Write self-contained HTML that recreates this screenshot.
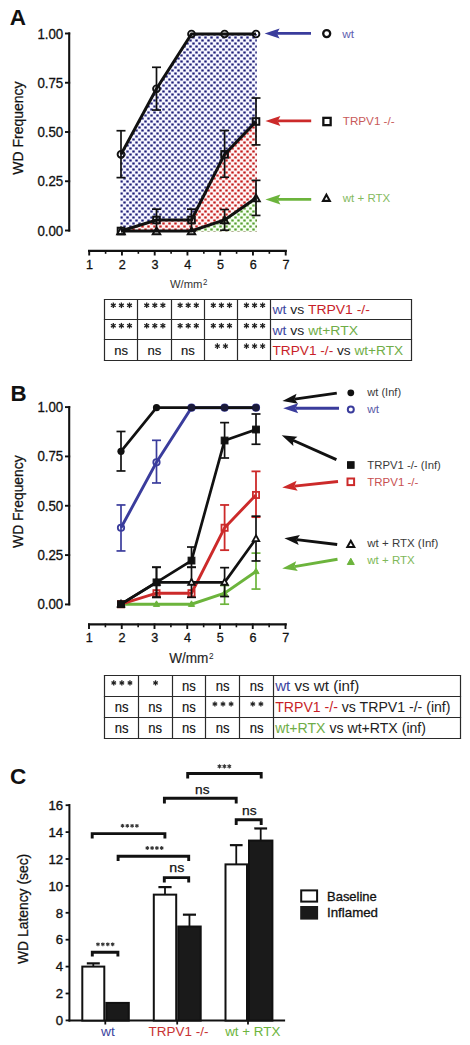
<!DOCTYPE html>
<html><head><meta charset="utf-8"><title>Figure</title><style>
html,body{margin:0;padding:0;background:#fff;width:470px;height:1045px;overflow:hidden}
svg{display:block}
text{font-family:"Liberation Sans",sans-serif}
.cal{font-family:"Liberation Sans",sans-serif}
</style></head><body>
<svg width="470" height="1045" viewBox="0 0 470 1045">
<defs>
<pattern id="pb" width="6.0" height="6.0" patternUnits="userSpaceOnUse"><rect width="6.0" height="6.0" fill="#f6f6ff"/><rect x="0.30000000000000004" y="0.44999999999999996" width="2.4" height="2.1" fill="#1e1e78"/><rect x="3.3" y="3.45" width="2.4" height="2.1" fill="#1e1e78"/></pattern>
<pattern id="pr" width="6.0" height="6.0" patternUnits="userSpaceOnUse"><rect width="6.0" height="6.0" fill="#fff4f4"/><rect x="0.30000000000000004" y="0.44999999999999996" width="2.4" height="2.1" fill="#c21a1a"/><rect x="3.3" y="3.45" width="2.4" height="2.1" fill="#c21a1a"/></pattern>
<pattern id="pg" width="6.0" height="6.0" patternUnits="userSpaceOnUse"><rect width="6.0" height="6.0" fill="#f6fff2"/><rect x="0.30000000000000004" y="0.44999999999999996" width="2.4" height="2.1" fill="#56a030"/><rect x="3.3" y="3.45" width="2.4" height="2.1" fill="#56a030"/></pattern>
</defs>
<rect width="470" height="1045" fill="#fff"/>
<text x="9.8" y="24.6" font-size="22.5" fill="#111" text-anchor="start" font-weight="bold" >A</text>
<text x="10.6" y="401" font-size="22.3" fill="#111" text-anchor="start" font-weight="bold" >B</text>
<text x="9.9" y="784" font-size="22.5" fill="#111" text-anchor="start" font-weight="bold" >C</text>
<polygon points="120.3,154.37 156.5,88.77 191.5,34 224.6,34 256.8,34 256.8,231.5 120.3,231.5" fill="url(#pb)"/>
<polygon points="120.3,231 156.5,219.97 191.5,219.97 224.6,154.37 256.8,121.47 256.8,231.5 120.3,231.5" fill="url(#pr)"/>
<polygon points="120.3,231 156.5,231 191.5,231 224.6,219.97 256.8,198.1 256.8,231.5 120.3,231.5" fill="url(#pg)"/>
<line x1="69.2" y1="32.4" x2="69.2" y2="231.6" stroke="#111" stroke-width="2.1" />
<line x1="65" y1="33.5" x2="70.2" y2="33.5" stroke="#111" stroke-width="1.9" />
<text x="63.2" y="38.5" font-size="14" fill="#111" text-anchor="end" font-weight="normal" textLength="25.8" lengthAdjust="spacingAndGlyphs" stroke="#111" stroke-width="0.3" >1.00</text>
<line x1="65" y1="82.75" x2="70.2" y2="82.75" stroke="#111" stroke-width="1.9" />
<text x="63.2" y="87.75" font-size="14" fill="#111" text-anchor="end" font-weight="normal" textLength="25.8" lengthAdjust="spacingAndGlyphs" stroke="#111" stroke-width="0.3" >0.75</text>
<line x1="65" y1="132" x2="70.2" y2="132" stroke="#111" stroke-width="1.9" />
<text x="63.2" y="137" font-size="14" fill="#111" text-anchor="end" font-weight="normal" textLength="25.8" lengthAdjust="spacingAndGlyphs" stroke="#111" stroke-width="0.3" >0.50</text>
<line x1="65" y1="181.25" x2="70.2" y2="181.25" stroke="#111" stroke-width="1.9" />
<text x="63.2" y="186.25" font-size="14" fill="#111" text-anchor="end" font-weight="normal" textLength="25.8" lengthAdjust="spacingAndGlyphs" stroke="#111" stroke-width="0.3" >0.25</text>
<line x1="65" y1="230.5" x2="70.2" y2="230.5" stroke="#111" stroke-width="1.9" />
<text x="63.2" y="235.5" font-size="14" fill="#111" text-anchor="end" font-weight="normal" textLength="25.8" lengthAdjust="spacingAndGlyphs" stroke="#111" stroke-width="0.3" >0.00</text>
<text x="0" y="0" font-size="14" fill="#111" text-anchor="middle" font-weight="normal" textLength="93.4" lengthAdjust="spacingAndGlyphs" stroke="#111" stroke-width="0.25" transform="translate(22.8,128.1) rotate(-90)">WD Frequency</text>
<line x1="88" y1="250.8" x2="286.8" y2="250.8" stroke="#111" stroke-width="2.2" />
<line x1="89.2" y1="250" x2="89.2" y2="255.5" stroke="#111" stroke-width="1.9" />
<text x="89.4" y="268.5" font-size="12.6" fill="#111" text-anchor="middle" font-weight="normal" stroke="#111" stroke-width="0.3" >1</text>
<line x1="105.6" y1="250" x2="105.6" y2="253.8" stroke="#111" stroke-width="1.6" />
<line x1="121.95" y1="250" x2="121.95" y2="255.5" stroke="#111" stroke-width="1.9" />
<text x="122.15" y="268.5" font-size="12.6" fill="#111" text-anchor="middle" font-weight="normal" stroke="#111" stroke-width="0.3" >2</text>
<line x1="138.35" y1="250" x2="138.35" y2="253.8" stroke="#111" stroke-width="1.6" />
<line x1="154.7" y1="250" x2="154.7" y2="255.5" stroke="#111" stroke-width="1.9" />
<text x="154.9" y="268.5" font-size="12.6" fill="#111" text-anchor="middle" font-weight="normal" stroke="#111" stroke-width="0.3" >3</text>
<line x1="171.1" y1="250" x2="171.1" y2="253.8" stroke="#111" stroke-width="1.6" />
<line x1="187.45" y1="250" x2="187.45" y2="255.5" stroke="#111" stroke-width="1.9" />
<text x="187.65" y="268.5" font-size="12.6" fill="#111" text-anchor="middle" font-weight="normal" stroke="#111" stroke-width="0.3" >4</text>
<line x1="203.85" y1="250" x2="203.85" y2="253.8" stroke="#111" stroke-width="1.6" />
<line x1="220.2" y1="250" x2="220.2" y2="255.5" stroke="#111" stroke-width="1.9" />
<text x="220.4" y="268.5" font-size="12.6" fill="#111" text-anchor="middle" font-weight="normal" stroke="#111" stroke-width="0.3" >5</text>
<line x1="236.6" y1="250" x2="236.6" y2="253.8" stroke="#111" stroke-width="1.6" />
<line x1="252.95" y1="250" x2="252.95" y2="255.5" stroke="#111" stroke-width="1.9" />
<text x="253.15" y="268.5" font-size="12.6" fill="#111" text-anchor="middle" font-weight="normal" stroke="#111" stroke-width="0.3" >6</text>
<line x1="269.35" y1="250" x2="269.35" y2="253.8" stroke="#111" stroke-width="1.6" />
<line x1="285.7" y1="250" x2="285.7" y2="255.5" stroke="#111" stroke-width="1.9" />
<text x="285.9" y="268.5" font-size="12.6" fill="#111" text-anchor="middle" font-weight="normal" stroke="#111" stroke-width="0.3" >7</text>
<text x="170" y="288.4" font-size="11.8" fill="#333" text-anchor="start" font-weight="normal" textLength="32.4" lengthAdjust="spacingAndGlyphs" >W/mm</text>
<text x="203" y="285" font-size="9.0" fill="#333" text-anchor="start" font-weight="normal" textLength="4.4" lengthAdjust="spacingAndGlyphs" >2</text>
<line x1="121" y1="130.73" x2="121" y2="177.61" stroke="#111" stroke-width="1.7" />
<line x1="116.5" y1="130.73" x2="125.5" y2="130.73" stroke="#111" stroke-width="1.7" />
<line x1="116.5" y1="177.61" x2="125.5" y2="177.61" stroke="#111" stroke-width="1.7" />
<line x1="156.5" y1="67.29" x2="156.5" y2="110.04" stroke="#111" stroke-width="1.7" />
<line x1="152" y1="67.29" x2="161" y2="67.29" stroke="#111" stroke-width="1.7" />
<line x1="152" y1="110.04" x2="161" y2="110.04" stroke="#111" stroke-width="1.7" />
<polyline points="121,154.37 156.5,88.77 191.5,34 224.6,34 256,34" fill="none" stroke="#111" stroke-width="3.0" stroke-linejoin="miter"/>
<circle cx="121" cy="154.37" r="3.4" stroke="#111" fill="none" stroke-width="1.9"/>
<circle cx="156.5" cy="88.77" r="3.4" stroke="#111" fill="none" stroke-width="1.9"/>
<circle cx="191.5" cy="34" r="3.4" stroke="#111" fill="none" stroke-width="1.9"/>
<circle cx="224.6" cy="34" r="3.4" stroke="#111" fill="none" stroke-width="1.9"/>
<circle cx="256" cy="34" r="3.4" stroke="#111" fill="none" stroke-width="1.9"/>
<line x1="156.5" y1="209.13" x2="156.5" y2="231" stroke="#111" stroke-width="1.7" />
<line x1="152" y1="209.13" x2="161" y2="209.13" stroke="#111" stroke-width="1.7" />
<line x1="152" y1="231" x2="161" y2="231" stroke="#111" stroke-width="1.7" />
<line x1="191.5" y1="209.13" x2="191.5" y2="231" stroke="#111" stroke-width="1.7" />
<line x1="187" y1="209.13" x2="196" y2="209.13" stroke="#111" stroke-width="1.7" />
<line x1="187" y1="231" x2="196" y2="231" stroke="#111" stroke-width="1.7" />
<line x1="224.6" y1="130.53" x2="224.6" y2="177.22" stroke="#111" stroke-width="1.7" />
<line x1="220.1" y1="130.53" x2="229.1" y2="130.53" stroke="#111" stroke-width="1.7" />
<line x1="220.1" y1="177.22" x2="229.1" y2="177.22" stroke="#111" stroke-width="1.7" />
<line x1="256" y1="98.02" x2="256" y2="144.91" stroke="#111" stroke-width="1.7" />
<line x1="251.5" y1="98.02" x2="260.5" y2="98.02" stroke="#111" stroke-width="1.7" />
<line x1="251.5" y1="144.91" x2="260.5" y2="144.91" stroke="#111" stroke-width="1.7" />
<polyline points="121,231 156.5,219.97 191.5,219.97 224.6,154.37 256,121.47" fill="none" stroke="#111" stroke-width="3.0" stroke-linejoin="miter"/>
<rect x="117.7" y="227.7" width="6.6" height="6.6" stroke="#111" fill="none" stroke-width="2.0"/>
<rect x="153.2" y="216.67" width="6.6" height="6.6" stroke="#111" fill="none" stroke-width="2.0"/>
<rect x="188.2" y="216.67" width="6.6" height="6.6" stroke="#111" fill="none" stroke-width="2.0"/>
<rect x="221.3" y="151.07" width="6.6" height="6.6" stroke="#111" fill="none" stroke-width="2.0"/>
<rect x="252.7" y="118.17" width="6.6" height="6.6" stroke="#111" fill="none" stroke-width="2.0"/>
<line x1="224.6" y1="209.53" x2="224.6" y2="230.21" stroke="#111" stroke-width="1.7" />
<line x1="220.1" y1="209.53" x2="229.1" y2="209.53" stroke="#111" stroke-width="1.7" />
<line x1="220.1" y1="230.21" x2="229.1" y2="230.21" stroke="#111" stroke-width="1.7" />
<line x1="256" y1="180.37" x2="256" y2="215.44" stroke="#111" stroke-width="1.7" />
<line x1="251.5" y1="180.37" x2="260.5" y2="180.37" stroke="#111" stroke-width="1.7" />
<line x1="251.5" y1="215.44" x2="260.5" y2="215.44" stroke="#111" stroke-width="1.7" />
<polyline points="121,231 156.5,231 191.5,231 224.6,219.97 256,198.1" fill="none" stroke="#111" stroke-width="3.0" stroke-linejoin="miter"/>
<polygon points="121,227.4 124.8,234.24 117.2,234.24" stroke="#111" fill="none" stroke-width="1.9" stroke-linejoin="miter"/>
<polygon points="156.5,227.4 160.3,234.24 152.7,234.24" stroke="#111" fill="none" stroke-width="1.9" stroke-linejoin="miter"/>
<polygon points="191.5,227.4 195.3,234.24 187.7,234.24" stroke="#111" fill="none" stroke-width="1.9" stroke-linejoin="miter"/>
<polygon points="224.6,216.36 228.4,223.2 220.8,223.2" stroke="#111" fill="none" stroke-width="1.9" stroke-linejoin="miter"/>
<polygon points="256,194.5 259.8,201.34 252.2,201.34" stroke="#111" fill="none" stroke-width="1.9" stroke-linejoin="miter"/>
<line x1="276.9" y1="33.4" x2="311" y2="33.4" stroke="#3a3c9c" stroke-width="2.9" />
<polygon points="264.6,33.4 279.6,38.4 276.9,33.4 279.6,28.4" fill="#3a3c9c"/>
<circle cx="326.7" cy="33.6" r="3.5" stroke="#111" fill="none" stroke-width="2.3"/>
<text x="342.2" y="38" font-size="11.8" fill="#6060b0" text-anchor="start" font-weight="normal" >wt</text>
<line x1="277.7" y1="120.9" x2="311.2" y2="120.9" stroke="#cc2a2a" stroke-width="2.9" />
<polygon points="265.4,120.9 280.4,125.9 277.7,120.9 280.4,115.9" fill="#cc2a2a"/>
<rect x="323.35" y="117.85" width="7.3" height="7.3" stroke="#111" fill="none" stroke-width="2.3"/>
<text x="342.8" y="125.3" font-size="11.8" fill="#c85a5a" text-anchor="start" font-weight="normal" textLength="51.8" lengthAdjust="spacingAndGlyphs" >TRPV1 -/-</text>
<line x1="277.7" y1="199.4" x2="311.2" y2="199.4" stroke="#6cb43c" stroke-width="2.9" />
<polygon points="265.4,199.4 280.4,204.4 277.7,199.4 280.4,194.4" fill="#6cb43c"/>
<polygon points="326.4,194.73 329.8,200.85 323,200.85" stroke="#111" fill="none" stroke-width="2.1" stroke-linejoin="miter"/>
<text x="342.8" y="201.7" font-size="11.8" fill="#84ba60" text-anchor="start" font-weight="normal" textLength="47.4" lengthAdjust="spacingAndGlyphs" >wt + RTX</text>
<line x1="103.9" y1="299.5" x2="412.1" y2="299.5" stroke="#2a2a2a" stroke-width="1.2" />
<line x1="103.9" y1="319.5" x2="412.1" y2="319.5" stroke="#2a2a2a" stroke-width="1.2" />
<line x1="103.9" y1="339.5" x2="412.1" y2="339.5" stroke="#2a2a2a" stroke-width="1.2" />
<line x1="103.9" y1="360.5" x2="412.1" y2="360.5" stroke="#2a2a2a" stroke-width="1.2" />
<line x1="104.5" y1="299.5" x2="104.5" y2="360.5" stroke="#2a2a2a" stroke-width="1.2" />
<line x1="137.5" y1="299.5" x2="137.5" y2="360.5" stroke="#2a2a2a" stroke-width="1.2" />
<line x1="171.5" y1="299.5" x2="171.5" y2="360.5" stroke="#2a2a2a" stroke-width="1.2" />
<line x1="204.5" y1="299.5" x2="204.5" y2="360.5" stroke="#2a2a2a" stroke-width="1.2" />
<line x1="237.5" y1="299.5" x2="237.5" y2="360.5" stroke="#2a2a2a" stroke-width="1.2" />
<line x1="270.5" y1="299.5" x2="270.5" y2="360.5" stroke="#2a2a2a" stroke-width="1.2" />
<line x1="411.5" y1="299.5" x2="411.5" y2="360.5" stroke="#2a2a2a" stroke-width="1.2" />
<line x1="113.3" y1="302.5" x2="113.3" y2="308.1" stroke="#222" stroke-width="1.3" />
<line x1="110.88" y1="303.9" x2="115.72" y2="306.7" stroke="#222" stroke-width="1.3" />
<line x1="115.72" y1="303.9" x2="110.88" y2="306.7" stroke="#222" stroke-width="1.3" />
<line x1="121.4" y1="302.5" x2="121.4" y2="308.1" stroke="#222" stroke-width="1.3" />
<line x1="118.98" y1="303.9" x2="123.82" y2="306.7" stroke="#222" stroke-width="1.3" />
<line x1="123.82" y1="303.9" x2="118.98" y2="306.7" stroke="#222" stroke-width="1.3" />
<line x1="129.5" y1="302.5" x2="129.5" y2="308.1" stroke="#222" stroke-width="1.3" />
<line x1="127.08" y1="303.9" x2="131.92" y2="306.7" stroke="#222" stroke-width="1.3" />
<line x1="131.92" y1="303.9" x2="127.08" y2="306.7" stroke="#222" stroke-width="1.3" />
<line x1="146.7" y1="302.5" x2="146.7" y2="308.1" stroke="#222" stroke-width="1.3" />
<line x1="144.28" y1="303.9" x2="149.12" y2="306.7" stroke="#222" stroke-width="1.3" />
<line x1="149.12" y1="303.9" x2="144.28" y2="306.7" stroke="#222" stroke-width="1.3" />
<line x1="154.8" y1="302.5" x2="154.8" y2="308.1" stroke="#222" stroke-width="1.3" />
<line x1="152.38" y1="303.9" x2="157.22" y2="306.7" stroke="#222" stroke-width="1.3" />
<line x1="157.22" y1="303.9" x2="152.38" y2="306.7" stroke="#222" stroke-width="1.3" />
<line x1="162.9" y1="302.5" x2="162.9" y2="308.1" stroke="#222" stroke-width="1.3" />
<line x1="160.48" y1="303.9" x2="165.32" y2="306.7" stroke="#222" stroke-width="1.3" />
<line x1="165.32" y1="303.9" x2="160.48" y2="306.7" stroke="#222" stroke-width="1.3" />
<line x1="180.1" y1="302.5" x2="180.1" y2="308.1" stroke="#222" stroke-width="1.3" />
<line x1="177.68" y1="303.9" x2="182.52" y2="306.7" stroke="#222" stroke-width="1.3" />
<line x1="182.52" y1="303.9" x2="177.68" y2="306.7" stroke="#222" stroke-width="1.3" />
<line x1="188.2" y1="302.5" x2="188.2" y2="308.1" stroke="#222" stroke-width="1.3" />
<line x1="185.78" y1="303.9" x2="190.62" y2="306.7" stroke="#222" stroke-width="1.3" />
<line x1="190.62" y1="303.9" x2="185.78" y2="306.7" stroke="#222" stroke-width="1.3" />
<line x1="196.3" y1="302.5" x2="196.3" y2="308.1" stroke="#222" stroke-width="1.3" />
<line x1="193.88" y1="303.9" x2="198.72" y2="306.7" stroke="#222" stroke-width="1.3" />
<line x1="198.72" y1="303.9" x2="193.88" y2="306.7" stroke="#222" stroke-width="1.3" />
<line x1="213.3" y1="302.5" x2="213.3" y2="308.1" stroke="#222" stroke-width="1.3" />
<line x1="210.88" y1="303.9" x2="215.72" y2="306.7" stroke="#222" stroke-width="1.3" />
<line x1="215.72" y1="303.9" x2="210.88" y2="306.7" stroke="#222" stroke-width="1.3" />
<line x1="221.4" y1="302.5" x2="221.4" y2="308.1" stroke="#222" stroke-width="1.3" />
<line x1="218.98" y1="303.9" x2="223.82" y2="306.7" stroke="#222" stroke-width="1.3" />
<line x1="223.82" y1="303.9" x2="218.98" y2="306.7" stroke="#222" stroke-width="1.3" />
<line x1="229.5" y1="302.5" x2="229.5" y2="308.1" stroke="#222" stroke-width="1.3" />
<line x1="227.08" y1="303.9" x2="231.92" y2="306.7" stroke="#222" stroke-width="1.3" />
<line x1="231.92" y1="303.9" x2="227.08" y2="306.7" stroke="#222" stroke-width="1.3" />
<line x1="246.45" y1="302.5" x2="246.45" y2="308.1" stroke="#222" stroke-width="1.3" />
<line x1="244.03" y1="303.9" x2="248.87" y2="306.7" stroke="#222" stroke-width="1.3" />
<line x1="248.87" y1="303.9" x2="244.03" y2="306.7" stroke="#222" stroke-width="1.3" />
<line x1="254.55" y1="302.5" x2="254.55" y2="308.1" stroke="#222" stroke-width="1.3" />
<line x1="252.13" y1="303.9" x2="256.97" y2="306.7" stroke="#222" stroke-width="1.3" />
<line x1="256.97" y1="303.9" x2="252.13" y2="306.7" stroke="#222" stroke-width="1.3" />
<line x1="262.65" y1="302.5" x2="262.65" y2="308.1" stroke="#222" stroke-width="1.3" />
<line x1="260.23" y1="303.9" x2="265.07" y2="306.7" stroke="#222" stroke-width="1.3" />
<line x1="265.07" y1="303.9" x2="260.23" y2="306.7" stroke="#222" stroke-width="1.3" />
<text x="272.5" y="314.2" font-size="13.6" textLength="97.4" lengthAdjust="spacingAndGlyphs"><tspan fill="#3c46a0">wt</tspan><tspan fill="#222"> vs </tspan><tspan fill="#c81e28">TRPV1 -/-</tspan></text>
<line x1="113.3" y1="322.9" x2="113.3" y2="328.5" stroke="#222" stroke-width="1.3" />
<line x1="110.88" y1="324.3" x2="115.72" y2="327.1" stroke="#222" stroke-width="1.3" />
<line x1="115.72" y1="324.3" x2="110.88" y2="327.1" stroke="#222" stroke-width="1.3" />
<line x1="121.4" y1="322.9" x2="121.4" y2="328.5" stroke="#222" stroke-width="1.3" />
<line x1="118.98" y1="324.3" x2="123.82" y2="327.1" stroke="#222" stroke-width="1.3" />
<line x1="123.82" y1="324.3" x2="118.98" y2="327.1" stroke="#222" stroke-width="1.3" />
<line x1="129.5" y1="322.9" x2="129.5" y2="328.5" stroke="#222" stroke-width="1.3" />
<line x1="127.08" y1="324.3" x2="131.92" y2="327.1" stroke="#222" stroke-width="1.3" />
<line x1="131.92" y1="324.3" x2="127.08" y2="327.1" stroke="#222" stroke-width="1.3" />
<line x1="146.7" y1="322.9" x2="146.7" y2="328.5" stroke="#222" stroke-width="1.3" />
<line x1="144.28" y1="324.3" x2="149.12" y2="327.1" stroke="#222" stroke-width="1.3" />
<line x1="149.12" y1="324.3" x2="144.28" y2="327.1" stroke="#222" stroke-width="1.3" />
<line x1="154.8" y1="322.9" x2="154.8" y2="328.5" stroke="#222" stroke-width="1.3" />
<line x1="152.38" y1="324.3" x2="157.22" y2="327.1" stroke="#222" stroke-width="1.3" />
<line x1="157.22" y1="324.3" x2="152.38" y2="327.1" stroke="#222" stroke-width="1.3" />
<line x1="162.9" y1="322.9" x2="162.9" y2="328.5" stroke="#222" stroke-width="1.3" />
<line x1="160.48" y1="324.3" x2="165.32" y2="327.1" stroke="#222" stroke-width="1.3" />
<line x1="165.32" y1="324.3" x2="160.48" y2="327.1" stroke="#222" stroke-width="1.3" />
<line x1="180.1" y1="322.9" x2="180.1" y2="328.5" stroke="#222" stroke-width="1.3" />
<line x1="177.68" y1="324.3" x2="182.52" y2="327.1" stroke="#222" stroke-width="1.3" />
<line x1="182.52" y1="324.3" x2="177.68" y2="327.1" stroke="#222" stroke-width="1.3" />
<line x1="188.2" y1="322.9" x2="188.2" y2="328.5" stroke="#222" stroke-width="1.3" />
<line x1="185.78" y1="324.3" x2="190.62" y2="327.1" stroke="#222" stroke-width="1.3" />
<line x1="190.62" y1="324.3" x2="185.78" y2="327.1" stroke="#222" stroke-width="1.3" />
<line x1="196.3" y1="322.9" x2="196.3" y2="328.5" stroke="#222" stroke-width="1.3" />
<line x1="193.88" y1="324.3" x2="198.72" y2="327.1" stroke="#222" stroke-width="1.3" />
<line x1="198.72" y1="324.3" x2="193.88" y2="327.1" stroke="#222" stroke-width="1.3" />
<line x1="213.3" y1="322.9" x2="213.3" y2="328.5" stroke="#222" stroke-width="1.3" />
<line x1="210.88" y1="324.3" x2="215.72" y2="327.1" stroke="#222" stroke-width="1.3" />
<line x1="215.72" y1="324.3" x2="210.88" y2="327.1" stroke="#222" stroke-width="1.3" />
<line x1="221.4" y1="322.9" x2="221.4" y2="328.5" stroke="#222" stroke-width="1.3" />
<line x1="218.98" y1="324.3" x2="223.82" y2="327.1" stroke="#222" stroke-width="1.3" />
<line x1="223.82" y1="324.3" x2="218.98" y2="327.1" stroke="#222" stroke-width="1.3" />
<line x1="229.5" y1="322.9" x2="229.5" y2="328.5" stroke="#222" stroke-width="1.3" />
<line x1="227.08" y1="324.3" x2="231.92" y2="327.1" stroke="#222" stroke-width="1.3" />
<line x1="231.92" y1="324.3" x2="227.08" y2="327.1" stroke="#222" stroke-width="1.3" />
<line x1="246.45" y1="322.9" x2="246.45" y2="328.5" stroke="#222" stroke-width="1.3" />
<line x1="244.03" y1="324.3" x2="248.87" y2="327.1" stroke="#222" stroke-width="1.3" />
<line x1="248.87" y1="324.3" x2="244.03" y2="327.1" stroke="#222" stroke-width="1.3" />
<line x1="254.55" y1="322.9" x2="254.55" y2="328.5" stroke="#222" stroke-width="1.3" />
<line x1="252.13" y1="324.3" x2="256.97" y2="327.1" stroke="#222" stroke-width="1.3" />
<line x1="256.97" y1="324.3" x2="252.13" y2="327.1" stroke="#222" stroke-width="1.3" />
<line x1="262.65" y1="322.9" x2="262.65" y2="328.5" stroke="#222" stroke-width="1.3" />
<line x1="260.23" y1="324.3" x2="265.07" y2="327.1" stroke="#222" stroke-width="1.3" />
<line x1="265.07" y1="324.3" x2="260.23" y2="327.1" stroke="#222" stroke-width="1.3" />
<text x="272.5" y="334.6" font-size="13.6" textLength="85.5" lengthAdjust="spacingAndGlyphs"><tspan fill="#3c46a0">wt</tspan><tspan fill="#222"> vs </tspan><tspan fill="#70ad47">wt+RTX</tspan></text>
<text x="121.1" y="355.2" font-size="13.6" fill="#111" text-anchor="middle" font-weight="normal" textLength="13.8" lengthAdjust="spacingAndGlyphs" stroke="#111" stroke-width="0.15" >ns</text>
<text x="154.5" y="355.2" font-size="13.6" fill="#111" text-anchor="middle" font-weight="normal" textLength="13.8" lengthAdjust="spacingAndGlyphs" stroke="#111" stroke-width="0.15" >ns</text>
<text x="187.9" y="355.2" font-size="13.6" fill="#111" text-anchor="middle" font-weight="normal" textLength="13.8" lengthAdjust="spacingAndGlyphs" stroke="#111" stroke-width="0.15" >ns</text>
<line x1="217.35" y1="343.3" x2="217.35" y2="348.9" stroke="#222" stroke-width="1.3" />
<line x1="214.93" y1="344.7" x2="219.77" y2="347.5" stroke="#222" stroke-width="1.3" />
<line x1="219.77" y1="344.7" x2="214.93" y2="347.5" stroke="#222" stroke-width="1.3" />
<line x1="225.45" y1="343.3" x2="225.45" y2="348.9" stroke="#222" stroke-width="1.3" />
<line x1="223.03" y1="344.7" x2="227.87" y2="347.5" stroke="#222" stroke-width="1.3" />
<line x1="227.87" y1="344.7" x2="223.03" y2="347.5" stroke="#222" stroke-width="1.3" />
<line x1="246.45" y1="343.3" x2="246.45" y2="348.9" stroke="#222" stroke-width="1.3" />
<line x1="244.03" y1="344.7" x2="248.87" y2="347.5" stroke="#222" stroke-width="1.3" />
<line x1="248.87" y1="344.7" x2="244.03" y2="347.5" stroke="#222" stroke-width="1.3" />
<line x1="254.55" y1="343.3" x2="254.55" y2="348.9" stroke="#222" stroke-width="1.3" />
<line x1="252.13" y1="344.7" x2="256.97" y2="347.5" stroke="#222" stroke-width="1.3" />
<line x1="256.97" y1="344.7" x2="252.13" y2="347.5" stroke="#222" stroke-width="1.3" />
<line x1="262.65" y1="343.3" x2="262.65" y2="348.9" stroke="#222" stroke-width="1.3" />
<line x1="260.23" y1="344.7" x2="265.07" y2="347.5" stroke="#222" stroke-width="1.3" />
<line x1="265.07" y1="344.7" x2="260.23" y2="347.5" stroke="#222" stroke-width="1.3" />
<text x="272.5" y="355" font-size="13.6" textLength="130.6" lengthAdjust="spacingAndGlyphs"><tspan fill="#c81e28">TRPV1 -/-</tspan><tspan fill="#222"> vs </tspan><tspan fill="#70ad47">wt+RTX</tspan></text>
<line x1="69.2" y1="406.1" x2="69.2" y2="605.4" stroke="#111" stroke-width="2.1" />
<line x1="65" y1="407.1" x2="70.2" y2="407.1" stroke="#111" stroke-width="1.9" />
<text x="63.2" y="412.1" font-size="14" fill="#111" text-anchor="end" font-weight="normal" textLength="25.8" lengthAdjust="spacingAndGlyphs" stroke="#111" stroke-width="0.3" >1.00</text>
<line x1="65" y1="456.43" x2="70.2" y2="456.43" stroke="#111" stroke-width="1.9" />
<text x="63.2" y="461.43" font-size="14" fill="#111" text-anchor="end" font-weight="normal" textLength="25.8" lengthAdjust="spacingAndGlyphs" stroke="#111" stroke-width="0.3" >0.75</text>
<line x1="65" y1="505.76" x2="70.2" y2="505.76" stroke="#111" stroke-width="1.9" />
<text x="63.2" y="510.76" font-size="14" fill="#111" text-anchor="end" font-weight="normal" textLength="25.8" lengthAdjust="spacingAndGlyphs" stroke="#111" stroke-width="0.3" >0.50</text>
<line x1="65" y1="555.09" x2="70.2" y2="555.09" stroke="#111" stroke-width="1.9" />
<text x="63.2" y="560.09" font-size="14" fill="#111" text-anchor="end" font-weight="normal" textLength="25.8" lengthAdjust="spacingAndGlyphs" stroke="#111" stroke-width="0.3" >0.25</text>
<line x1="65" y1="604.42" x2="70.2" y2="604.42" stroke="#111" stroke-width="1.9" />
<text x="63.2" y="609.42" font-size="14" fill="#111" text-anchor="end" font-weight="normal" textLength="25.8" lengthAdjust="spacingAndGlyphs" stroke="#111" stroke-width="0.3" >0.00</text>
<text x="0" y="0" font-size="14" fill="#111" text-anchor="middle" font-weight="normal" textLength="92.6" lengthAdjust="spacingAndGlyphs" stroke="#111" stroke-width="0.25" transform="translate(22.8,501.6) rotate(-90)">WD Frequency</text>
<line x1="88" y1="624.3" x2="286.8" y2="624.3" stroke="#111" stroke-width="2.2" />
<line x1="89" y1="623.5" x2="89" y2="629" stroke="#111" stroke-width="1.9" />
<text x="89.2" y="641.6" font-size="12.6" fill="#111" text-anchor="middle" font-weight="normal" stroke="#111" stroke-width="0.3" >1</text>
<line x1="105.4" y1="623.5" x2="105.4" y2="627.3" stroke="#111" stroke-width="1.6" />
<line x1="121.75" y1="623.5" x2="121.75" y2="629" stroke="#111" stroke-width="1.9" />
<text x="121.95" y="641.6" font-size="12.6" fill="#111" text-anchor="middle" font-weight="normal" stroke="#111" stroke-width="0.3" >2</text>
<line x1="138.15" y1="623.5" x2="138.15" y2="627.3" stroke="#111" stroke-width="1.6" />
<line x1="154.5" y1="623.5" x2="154.5" y2="629" stroke="#111" stroke-width="1.9" />
<text x="154.7" y="641.6" font-size="12.6" fill="#111" text-anchor="middle" font-weight="normal" stroke="#111" stroke-width="0.3" >3</text>
<line x1="170.9" y1="623.5" x2="170.9" y2="627.3" stroke="#111" stroke-width="1.6" />
<line x1="187.25" y1="623.5" x2="187.25" y2="629" stroke="#111" stroke-width="1.9" />
<text x="187.45" y="641.6" font-size="12.6" fill="#111" text-anchor="middle" font-weight="normal" stroke="#111" stroke-width="0.3" >4</text>
<line x1="203.65" y1="623.5" x2="203.65" y2="627.3" stroke="#111" stroke-width="1.6" />
<line x1="220" y1="623.5" x2="220" y2="629" stroke="#111" stroke-width="1.9" />
<text x="220.2" y="641.6" font-size="12.6" fill="#111" text-anchor="middle" font-weight="normal" stroke="#111" stroke-width="0.3" >5</text>
<line x1="236.4" y1="623.5" x2="236.4" y2="627.3" stroke="#111" stroke-width="1.6" />
<line x1="252.75" y1="623.5" x2="252.75" y2="629" stroke="#111" stroke-width="1.9" />
<text x="252.95" y="641.6" font-size="12.6" fill="#111" text-anchor="middle" font-weight="normal" stroke="#111" stroke-width="0.3" >6</text>
<line x1="269.15" y1="623.5" x2="269.15" y2="627.3" stroke="#111" stroke-width="1.6" />
<line x1="285.5" y1="623.5" x2="285.5" y2="629" stroke="#111" stroke-width="1.9" />
<text x="285.7" y="641.6" font-size="12.6" fill="#111" text-anchor="middle" font-weight="normal" stroke="#111" stroke-width="0.3" >7</text>
<text x="169.2" y="662.6" font-size="14.6" fill="#222" text-anchor="start" font-weight="normal" textLength="39.2" lengthAdjust="spacingAndGlyphs" stroke="#222" stroke-width="0.15" >W/mm</text>
<text x="209" y="658.6" font-size="9.6" fill="#222" text-anchor="start" font-weight="normal" textLength="4.6" lengthAdjust="spacingAndGlyphs" >2</text>
<line x1="224.6" y1="585.53" x2="224.6" y2="604.2" stroke="#6cb43c" stroke-width="1.7" />
<line x1="220.1" y1="585.53" x2="229.1" y2="585.53" stroke="#6cb43c" stroke-width="1.7" />
<line x1="220.1" y1="604.2" x2="229.1" y2="604.2" stroke="#6cb43c" stroke-width="1.7" />
<line x1="256" y1="553.11" x2="256" y2="589.07" stroke="#6cb43c" stroke-width="1.7" />
<line x1="251.5" y1="553.11" x2="260.5" y2="553.11" stroke="#6cb43c" stroke-width="1.7" />
<line x1="251.5" y1="589.07" x2="260.5" y2="589.07" stroke="#6cb43c" stroke-width="1.7" />
<polyline points="121,604.2 156.5,604.2 191.5,604.2 224.6,593.2 256,571.38" fill="none" stroke="#6cb43c" stroke-width="2.9" stroke-linejoin="miter"/>
<polygon points="121,600.85 124.1,606.43 117.9,606.43" stroke="#6cb43c" fill="#6cb43c" stroke-width="1.0" stroke-linejoin="miter"/>
<polygon points="156.5,600.85 159.6,606.43 153.4,606.43" stroke="#6cb43c" fill="#6cb43c" stroke-width="1.0" stroke-linejoin="miter"/>
<polygon points="191.5,600.85 194.6,606.43 188.4,606.43" stroke="#6cb43c" fill="#6cb43c" stroke-width="1.0" stroke-linejoin="miter"/>
<polygon points="224.6,589.85 227.7,595.43 221.5,595.43" stroke="#6cb43c" fill="#6cb43c" stroke-width="1.0" stroke-linejoin="miter"/>
<polygon points="256,568.04 259.1,573.62 252.9,573.62" stroke="#6cb43c" fill="#6cb43c" stroke-width="1.0" stroke-linejoin="miter"/>
<line x1="224.6" y1="504.97" x2="224.6" y2="550.16" stroke="#cc2a2a" stroke-width="1.8" />
<line x1="220.1" y1="504.97" x2="229.1" y2="504.97" stroke="#cc2a2a" stroke-width="1.8" />
<line x1="220.1" y1="550.16" x2="229.1" y2="550.16" stroke="#cc2a2a" stroke-width="1.8" />
<line x1="256" y1="471.37" x2="256" y2="517.15" stroke="#cc2a2a" stroke-width="1.8" />
<line x1="251.5" y1="471.37" x2="260.5" y2="471.37" stroke="#cc2a2a" stroke-width="1.8" />
<line x1="251.5" y1="517.15" x2="260.5" y2="517.15" stroke="#cc2a2a" stroke-width="1.8" />
<polyline points="121,604.2 156.5,593.2 191.5,593.2 224.6,527.76 256,494.95" fill="none" stroke="#cc2a2a" stroke-width="2.9" stroke-linejoin="miter"/>
<rect x="117.9" y="601.1" width="6.2" height="6.2" stroke="#cc2a2a" fill="none" stroke-width="1.8"/>
<rect x="153.4" y="590.1" width="6.2" height="6.2" stroke="#cc2a2a" fill="none" stroke-width="1.8"/>
<rect x="188.4" y="590.1" width="6.2" height="6.2" stroke="#cc2a2a" fill="none" stroke-width="1.8"/>
<rect x="221.5" y="524.66" width="6.2" height="6.2" stroke="#cc2a2a" fill="none" stroke-width="1.8"/>
<rect x="252.9" y="491.85" width="6.2" height="6.2" stroke="#cc2a2a" fill="none" stroke-width="1.8"/>
<line x1="121" y1="504.97" x2="121" y2="550.95" stroke="#3a3c9c" stroke-width="1.7" />
<line x1="116.5" y1="504.97" x2="125.5" y2="504.97" stroke="#3a3c9c" stroke-width="1.7" />
<line x1="116.5" y1="550.95" x2="125.5" y2="550.95" stroke="#3a3c9c" stroke-width="1.7" />
<line x1="156.5" y1="440.32" x2="156.5" y2="482.96" stroke="#3a3c9c" stroke-width="1.7" />
<line x1="152" y1="440.32" x2="161" y2="440.32" stroke="#3a3c9c" stroke-width="1.7" />
<line x1="152" y1="482.96" x2="161" y2="482.96" stroke="#3a3c9c" stroke-width="1.7" />
<polyline points="121,527.76 156.5,462.33 191.5,407.7 224.6,407.7 256,407.7" fill="none" stroke="#3a3c9c" stroke-width="2.9" stroke-linejoin="miter"/>
<circle cx="121" cy="527.76" r="3.2" stroke="#3a3c9c" fill="none" stroke-width="1.8"/>
<circle cx="156.5" cy="462.33" r="3.2" stroke="#3a3c9c" fill="none" stroke-width="1.8"/>
<circle cx="191.5" cy="407.7" r="3.2" stroke="#3a3c9c" fill="none" stroke-width="1.8"/>
<circle cx="224.6" cy="407.7" r="3.2" stroke="#3a3c9c" fill="none" stroke-width="1.8"/>
<circle cx="256" cy="407.7" r="3.2" stroke="#3a3c9c" fill="none" stroke-width="1.8"/>
<line x1="156.5" y1="567.26" x2="156.5" y2="597.32" stroke="#111" stroke-width="1.7" />
<line x1="152" y1="567.26" x2="161" y2="567.26" stroke="#111" stroke-width="1.7" />
<line x1="152" y1="597.32" x2="161" y2="597.32" stroke="#111" stroke-width="1.7" />
<line x1="191.5" y1="567.26" x2="191.5" y2="597.32" stroke="#111" stroke-width="1.7" />
<line x1="187" y1="567.26" x2="196" y2="567.26" stroke="#111" stroke-width="1.7" />
<line x1="187" y1="597.32" x2="196" y2="597.32" stroke="#111" stroke-width="1.7" />
<line x1="224.6" y1="567.65" x2="224.6" y2="596.54" stroke="#111" stroke-width="1.7" />
<line x1="220.1" y1="567.65" x2="229.1" y2="567.65" stroke="#111" stroke-width="1.7" />
<line x1="220.1" y1="596.54" x2="229.1" y2="596.54" stroke="#111" stroke-width="1.7" />
<line x1="256" y1="516.17" x2="256" y2="560.97" stroke="#111" stroke-width="1.7" />
<line x1="251.5" y1="516.17" x2="260.5" y2="516.17" stroke="#111" stroke-width="1.7" />
<line x1="251.5" y1="560.97" x2="260.5" y2="560.97" stroke="#111" stroke-width="1.7" />
<polyline points="121,604.2 156.5,582.39 191.5,582.39 224.6,582.39 256,538.77" fill="none" stroke="#111" stroke-width="2.7" stroke-linejoin="miter"/>
<polygon points="121,600.69 124.25,606.54 117.75,606.54" stroke="#111" fill="#fff" stroke-width="1.8" stroke-linejoin="miter"/>
<polygon points="156.5,578.88 159.75,584.73 153.25,584.73" stroke="#111" fill="#fff" stroke-width="1.8" stroke-linejoin="miter"/>
<polygon points="191.5,578.88 194.75,584.73 188.25,584.73" stroke="#111" fill="#fff" stroke-width="1.8" stroke-linejoin="miter"/>
<polygon points="224.6,578.88 227.85,584.73 221.35,584.73" stroke="#111" fill="#fff" stroke-width="1.8" stroke-linejoin="miter"/>
<polygon points="256,535.26 259.25,541.11 252.75,541.11" stroke="#111" fill="#fff" stroke-width="1.8" stroke-linejoin="miter"/>
<line x1="156.5" y1="567.26" x2="156.5" y2="597.32" stroke="#111" stroke-width="1.7" />
<line x1="152" y1="567.26" x2="161" y2="567.26" stroke="#111" stroke-width="1.7" />
<line x1="152" y1="597.32" x2="161" y2="597.32" stroke="#111" stroke-width="1.7" />
<line x1="191.5" y1="547.02" x2="191.5" y2="567.26" stroke="#111" stroke-width="1.7" />
<line x1="187" y1="547.02" x2="196" y2="547.02" stroke="#111" stroke-width="1.7" />
<line x1="187" y1="567.26" x2="196" y2="567.26" stroke="#111" stroke-width="1.7" />
<line x1="224.6" y1="422.63" x2="224.6" y2="458" stroke="#111" stroke-width="1.7" />
<line x1="220.1" y1="422.63" x2="229.1" y2="422.63" stroke="#111" stroke-width="1.7" />
<line x1="220.1" y1="458" x2="229.1" y2="458" stroke="#111" stroke-width="1.7" />
<line x1="256" y1="413.99" x2="256" y2="444.25" stroke="#111" stroke-width="1.7" />
<line x1="251.5" y1="413.99" x2="260.5" y2="413.99" stroke="#111" stroke-width="1.7" />
<line x1="251.5" y1="444.25" x2="260.5" y2="444.25" stroke="#111" stroke-width="1.7" />
<polyline points="121,604.2 156.5,582.39 191.5,560.58 224.6,440.52 256,429.51" fill="none" stroke="#111" stroke-width="2.7" stroke-linejoin="miter"/>
<rect x="117.6" y="600.8" width="6.8" height="6.8" stroke="#111" fill="#111" stroke-width="1.0"/>
<rect x="153.1" y="578.99" width="6.8" height="6.8" stroke="#111" fill="#111" stroke-width="1.0"/>
<rect x="188.1" y="557.18" width="6.8" height="6.8" stroke="#111" fill="#111" stroke-width="1.0"/>
<rect x="221.2" y="437.12" width="6.8" height="6.8" stroke="#111" fill="#111" stroke-width="1.0"/>
<rect x="252.6" y="426.11" width="6.8" height="6.8" stroke="#111" fill="#111" stroke-width="1.0"/>
<line x1="121" y1="431.48" x2="121" y2="470.97" stroke="#111" stroke-width="1.7" />
<line x1="116.5" y1="431.48" x2="125.5" y2="431.48" stroke="#111" stroke-width="1.7" />
<line x1="116.5" y1="470.97" x2="125.5" y2="470.97" stroke="#111" stroke-width="1.7" />
<polyline points="121,451.32 156.5,407.7 191.5,407.7 224.6,407.7 256,407.7" fill="none" stroke="#111" stroke-width="2.7" stroke-linejoin="miter"/>
<circle cx="121" cy="451.32" r="3.6" stroke="none" fill="#111" stroke-width="0"/>
<circle cx="156.5" cy="407.7" r="3.6" stroke="none" fill="#111" stroke-width="0"/>
<circle cx="191.5" cy="407.7" r="3.6" stroke="none" fill="#1a1a38" stroke-width="0"/>
<circle cx="224.6" cy="407.7" r="3.6" stroke="none" fill="#1a1a38" stroke-width="0"/>
<circle cx="256" cy="407.7" r="3.6" stroke="none" fill="#1a1a38" stroke-width="0"/>
<line x1="294.58" y1="399.15" x2="336.8" y2="393.1" stroke="#111" stroke-width="2.9" />
<polygon points="282.4,400.9 297.96,403.72 294.58,399.15 296.54,393.82" fill="#111"/>
<line x1="295.5" y1="408.3" x2="339" y2="408.3" stroke="#3a3c9c" stroke-width="2.9" />
<polygon points="283.2,408.3 298.2,413.3 295.5,408.3 298.2,403.3" fill="#3a3c9c"/>
<line x1="292.93" y1="440.21" x2="336.4" y2="459.6" stroke="#111" stroke-width="2.9" />
<polygon points="281.7,435.2 293.36,445.88 292.93,440.21 297.44,436.74" fill="#111"/>
<line x1="294.43" y1="486.11" x2="338" y2="481.5" stroke="#cc2a2a" stroke-width="2.9" />
<polygon points="282.2,487.4 297.64,490.8 294.43,486.11 296.59,480.85" fill="#cc2a2a"/>
<line x1="296.61" y1="539.66" x2="337.2" y2="544.5" stroke="#111" stroke-width="2.9" />
<polygon points="284.4,538.2 298.7,544.94 296.61,539.66 299.89,535.01" fill="#111"/>
<line x1="294.33" y1="566.56" x2="337.5" y2="559.3" stroke="#6cb43c" stroke-width="2.9" />
<polygon points="282.2,568.6 297.82,571.04 294.33,566.56 296.16,561.18" fill="#6cb43c"/>
<circle cx="350.8" cy="392.8" r="3.4" stroke="none" fill="#111" stroke-width="1.8"/>
<circle cx="350.8" cy="409.4" r="3" stroke="#3a3c9c" fill="none" stroke-width="2.0"/>
<rect x="347.5" y="461.7" width="6.6" height="6.6" stroke="#111" fill="#111" stroke-width="1.0"/>
<rect x="347.5" y="478.5" width="6.6" height="6.6" stroke="#cc2a2a" fill="none" stroke-width="2.0"/>
<polygon points="350.8,540.82 354.3,547.12 347.3,547.12" stroke="#111" fill="none" stroke-width="2.0" stroke-linejoin="miter"/>
<polygon points="350.8,558.22 354.3,564.52 347.3,564.52" stroke="#6cb43c" fill="#6cb43c" stroke-width="1.0" stroke-linejoin="miter"/>
<text x="367.3" y="396.2" font-size="11.8" fill="#3a3a3a" text-anchor="start" font-weight="normal" textLength="33.8" lengthAdjust="spacingAndGlyphs" >wt (Inf)</text>
<text x="367.3" y="412.8" font-size="11.8" fill="#5a5aa8" text-anchor="start" font-weight="normal" >wt</text>
<text x="367.3" y="469" font-size="11.8" fill="#3a3a3a" text-anchor="start" font-weight="normal" textLength="73.6" lengthAdjust="spacingAndGlyphs" >TRPV1 -/- (Inf)</text>
<text x="367.3" y="485.6" font-size="11.8" fill="#c85050" text-anchor="start" font-weight="normal" textLength="51" lengthAdjust="spacingAndGlyphs" >TRPV1 -/-</text>
<text x="367.3" y="547.4" font-size="11.8" fill="#3a3a3a" text-anchor="start" font-weight="normal" textLength="71" lengthAdjust="spacingAndGlyphs" >wt + RTX (Inf)</text>
<text x="367.3" y="564.2" font-size="11.8" fill="#80b858" text-anchor="start" font-weight="normal" textLength="47.4" lengthAdjust="spacingAndGlyphs" >wt + RTX</text>
<line x1="103.9" y1="675.5" x2="461.1" y2="675.5" stroke="#2a2a2a" stroke-width="1.2" />
<line x1="103.9" y1="696.5" x2="461.1" y2="696.5" stroke="#2a2a2a" stroke-width="1.2" />
<line x1="103.9" y1="717.5" x2="461.1" y2="717.5" stroke="#2a2a2a" stroke-width="1.2" />
<line x1="103.9" y1="738.5" x2="461.1" y2="738.5" stroke="#2a2a2a" stroke-width="1.2" />
<line x1="104.5" y1="675.5" x2="104.5" y2="738.5" stroke="#2a2a2a" stroke-width="1.2" />
<line x1="138.5" y1="675.5" x2="138.5" y2="738.5" stroke="#2a2a2a" stroke-width="1.2" />
<line x1="172.5" y1="675.5" x2="172.5" y2="738.5" stroke="#2a2a2a" stroke-width="1.2" />
<line x1="205.5" y1="675.5" x2="205.5" y2="738.5" stroke="#2a2a2a" stroke-width="1.2" />
<line x1="239.5" y1="675.5" x2="239.5" y2="738.5" stroke="#2a2a2a" stroke-width="1.2" />
<line x1="273.5" y1="675.5" x2="273.5" y2="738.5" stroke="#2a2a2a" stroke-width="1.2" />
<line x1="460.5" y1="675.5" x2="460.5" y2="738.5" stroke="#2a2a2a" stroke-width="1.2" />
<line x1="113.75" y1="680.3" x2="113.75" y2="685.5" stroke="#222" stroke-width="1.3" />
<line x1="111.5" y1="681.6" x2="116" y2="684.2" stroke="#222" stroke-width="1.3" />
<line x1="116" y1="681.6" x2="111.5" y2="684.2" stroke="#222" stroke-width="1.3" />
<line x1="121.85" y1="680.3" x2="121.85" y2="685.5" stroke="#222" stroke-width="1.3" />
<line x1="119.6" y1="681.6" x2="124.1" y2="684.2" stroke="#222" stroke-width="1.3" />
<line x1="124.1" y1="681.6" x2="119.6" y2="684.2" stroke="#222" stroke-width="1.3" />
<line x1="129.95" y1="680.3" x2="129.95" y2="685.5" stroke="#222" stroke-width="1.3" />
<line x1="127.7" y1="681.6" x2="132.2" y2="684.2" stroke="#222" stroke-width="1.3" />
<line x1="132.2" y1="681.6" x2="127.7" y2="684.2" stroke="#222" stroke-width="1.3" />
<line x1="155.55" y1="680.3" x2="155.55" y2="685.5" stroke="#222" stroke-width="1.3" />
<line x1="153.3" y1="681.6" x2="157.8" y2="684.2" stroke="#222" stroke-width="1.3" />
<line x1="157.8" y1="681.6" x2="153.3" y2="684.2" stroke="#222" stroke-width="1.3" />
<text x="188.95" y="691.3" font-size="14.1" fill="#111" text-anchor="middle" font-weight="normal" textLength="13.8" lengthAdjust="spacingAndGlyphs" stroke="#111" stroke-width="0.15" >ns</text>
<text x="222.7" y="691.3" font-size="14.1" fill="#111" text-anchor="middle" font-weight="normal" textLength="13.8" lengthAdjust="spacingAndGlyphs" stroke="#111" stroke-width="0.15" >ns</text>
<text x="256.55" y="691.3" font-size="14.1" fill="#111" text-anchor="middle" font-weight="normal" textLength="13.8" lengthAdjust="spacingAndGlyphs" stroke="#111" stroke-width="0.15" >ns</text>
<text x="275.2" y="691.1" font-size="14.1" textLength="84.1" lengthAdjust="spacingAndGlyphs"><tspan fill="#3c46a0">wt</tspan><tspan fill="#222"> vs wt (inf)</tspan></text>
<text x="121.55" y="712.3" font-size="14.1" fill="#111" text-anchor="middle" font-weight="normal" textLength="13.8" lengthAdjust="spacingAndGlyphs" stroke="#111" stroke-width="0.15" >ns</text>
<text x="155.25" y="712.3" font-size="14.1" fill="#111" text-anchor="middle" font-weight="normal" textLength="13.8" lengthAdjust="spacingAndGlyphs" stroke="#111" stroke-width="0.15" >ns</text>
<text x="188.95" y="712.3" font-size="14.1" fill="#111" text-anchor="middle" font-weight="normal" textLength="13.8" lengthAdjust="spacingAndGlyphs" stroke="#111" stroke-width="0.15" >ns</text>
<line x1="214.9" y1="701.4" x2="214.9" y2="706.6" stroke="#222" stroke-width="1.3" />
<line x1="212.65" y1="702.7" x2="217.15" y2="705.3" stroke="#222" stroke-width="1.3" />
<line x1="217.15" y1="702.7" x2="212.65" y2="705.3" stroke="#222" stroke-width="1.3" />
<line x1="223" y1="701.4" x2="223" y2="706.6" stroke="#222" stroke-width="1.3" />
<line x1="220.75" y1="702.7" x2="225.25" y2="705.3" stroke="#222" stroke-width="1.3" />
<line x1="225.25" y1="702.7" x2="220.75" y2="705.3" stroke="#222" stroke-width="1.3" />
<line x1="231.1" y1="701.4" x2="231.1" y2="706.6" stroke="#222" stroke-width="1.3" />
<line x1="228.85" y1="702.7" x2="233.35" y2="705.3" stroke="#222" stroke-width="1.3" />
<line x1="233.35" y1="702.7" x2="228.85" y2="705.3" stroke="#222" stroke-width="1.3" />
<line x1="252.8" y1="701.4" x2="252.8" y2="706.6" stroke="#222" stroke-width="1.3" />
<line x1="250.55" y1="702.7" x2="255.05" y2="705.3" stroke="#222" stroke-width="1.3" />
<line x1="255.05" y1="702.7" x2="250.55" y2="705.3" stroke="#222" stroke-width="1.3" />
<line x1="260.9" y1="701.4" x2="260.9" y2="706.6" stroke="#222" stroke-width="1.3" />
<line x1="258.65" y1="702.7" x2="263.15" y2="705.3" stroke="#222" stroke-width="1.3" />
<line x1="263.15" y1="702.7" x2="258.65" y2="705.3" stroke="#222" stroke-width="1.3" />
<text x="275.2" y="712.1" font-size="14.1" textLength="175.3" lengthAdjust="spacingAndGlyphs"><tspan fill="#c81e28">TRPV1 -/-</tspan><tspan fill="#222"> vs TRPV1 -/- (inf)</tspan></text>
<text x="121.55" y="733.3" font-size="14.1" fill="#111" text-anchor="middle" font-weight="normal" textLength="13.8" lengthAdjust="spacingAndGlyphs" stroke="#111" stroke-width="0.15" >ns</text>
<text x="155.25" y="733.3" font-size="14.1" fill="#111" text-anchor="middle" font-weight="normal" textLength="13.8" lengthAdjust="spacingAndGlyphs" stroke="#111" stroke-width="0.15" >ns</text>
<text x="188.95" y="733.3" font-size="14.1" fill="#111" text-anchor="middle" font-weight="normal" textLength="13.8" lengthAdjust="spacingAndGlyphs" stroke="#111" stroke-width="0.15" >ns</text>
<text x="222.7" y="733.3" font-size="14.1" fill="#111" text-anchor="middle" font-weight="normal" textLength="13.8" lengthAdjust="spacingAndGlyphs" stroke="#111" stroke-width="0.15" >ns</text>
<text x="256.55" y="733.3" font-size="14.1" fill="#111" text-anchor="middle" font-weight="normal" textLength="13.8" lengthAdjust="spacingAndGlyphs" stroke="#111" stroke-width="0.15" >ns</text>
<text x="275.2" y="733.1" font-size="14.1" textLength="150.8" lengthAdjust="spacingAndGlyphs"><tspan fill="#70ad47">wt+RTX</tspan><tspan fill="#222"> vs wt+RTX (inf)</tspan></text>
<line x1="69.4" y1="804" x2="69.4" y2="1021.5" stroke="#111" stroke-width="2" />
<line x1="65.6" y1="1020.4" x2="70" y2="1020.4" stroke="#111" stroke-width="1.8" />
<text x="63.2" y="1025.1" font-size="13.2" fill="#111" text-anchor="end" font-weight="normal" stroke="#111" stroke-width="0.35" >0</text>
<line x1="65.6" y1="993.5" x2="70" y2="993.5" stroke="#111" stroke-width="1.8" />
<text x="63.2" y="998.2" font-size="13.2" fill="#111" text-anchor="end" font-weight="normal" stroke="#111" stroke-width="0.35" >2</text>
<line x1="65.6" y1="966.6" x2="70" y2="966.6" stroke="#111" stroke-width="1.8" />
<text x="63.2" y="971.3" font-size="13.2" fill="#111" text-anchor="end" font-weight="normal" stroke="#111" stroke-width="0.35" >4</text>
<line x1="65.6" y1="939.7" x2="70" y2="939.7" stroke="#111" stroke-width="1.8" />
<text x="63.2" y="944.4" font-size="13.2" fill="#111" text-anchor="end" font-weight="normal" stroke="#111" stroke-width="0.35" >6</text>
<line x1="65.6" y1="912.8" x2="70" y2="912.8" stroke="#111" stroke-width="1.8" />
<text x="63.2" y="917.5" font-size="13.2" fill="#111" text-anchor="end" font-weight="normal" stroke="#111" stroke-width="0.35" >8</text>
<line x1="65.6" y1="885.9" x2="70" y2="885.9" stroke="#111" stroke-width="1.8" />
<text x="63.2" y="890.6" font-size="13.2" fill="#111" text-anchor="end" font-weight="normal" stroke="#111" stroke-width="0.35" >10</text>
<line x1="65.6" y1="859" x2="70" y2="859" stroke="#111" stroke-width="1.8" />
<text x="63.2" y="863.7" font-size="13.2" fill="#111" text-anchor="end" font-weight="normal" stroke="#111" stroke-width="0.35" >12</text>
<line x1="65.6" y1="832.1" x2="70" y2="832.1" stroke="#111" stroke-width="1.8" />
<text x="63.2" y="836.8" font-size="13.2" fill="#111" text-anchor="end" font-weight="normal" stroke="#111" stroke-width="0.35" >14</text>
<line x1="65.6" y1="805.2" x2="70" y2="805.2" stroke="#111" stroke-width="1.8" />
<text x="63.2" y="809.9" font-size="13.2" fill="#111" text-anchor="end" font-weight="normal" stroke="#111" stroke-width="0.35" >16</text>
<text x="0" y="0" font-size="14" fill="#111" text-anchor="middle" font-weight="normal" textLength="110.2" lengthAdjust="spacingAndGlyphs" stroke="#111" stroke-width="0.25" transform="translate(28.3,908.9) rotate(-90)">WD Latency (sec)</text>
<line x1="68.5" y1="1020.6" x2="285.1" y2="1020.6" stroke="#111" stroke-width="2" />
<line x1="105.3" y1="1020" x2="105.3" y2="1024.5" stroke="#111" stroke-width="1.8" />
<line x1="177.2" y1="1020" x2="177.2" y2="1024.5" stroke="#111" stroke-width="1.8" />
<line x1="248" y1="1020" x2="248" y2="1024.5" stroke="#111" stroke-width="1.8" />
<line x1="93.3" y1="966.6" x2="93.3" y2="963.37" stroke="#111" stroke-width="1.8" />
<line x1="86.8" y1="963.37" x2="99.8" y2="963.37" stroke="#111" stroke-width="2.2" />
<rect x="82.3" y="966.6" width="22" height="54" fill="#fff" stroke="#111" stroke-width="2"/>
<rect x="106.3" y="1002.91" width="22.5" height="17.69" fill="#1a1a1a" stroke="#111" stroke-width="2"/>
<line x1="165" y1="894.64" x2="165" y2="887.11" stroke="#111" stroke-width="1.8" />
<line x1="158.4" y1="887.11" x2="171.6" y2="887.11" stroke="#111" stroke-width="2.2" />
<rect x="153.8" y="894.64" width="22.4" height="125.96" fill="#fff" stroke="#111" stroke-width="2"/>
<line x1="189.45" y1="926.52" x2="189.45" y2="914.68" stroke="#111" stroke-width="1.8" />
<line x1="182.9" y1="914.68" x2="196" y2="914.68" stroke="#111" stroke-width="2.2" />
<rect x="178.2" y="926.52" width="22.5" height="94.08" fill="#1a1a1a" stroke="#111" stroke-width="2"/>
<line x1="236.25" y1="864.38" x2="236.25" y2="845.15" stroke="#111" stroke-width="1.8" />
<line x1="229.9" y1="845.15" x2="242.6" y2="845.15" stroke="#111" stroke-width="2.2" />
<rect x="225.5" y="864.38" width="21.5" height="156.22" fill="#fff" stroke="#111" stroke-width="2"/>
<line x1="260.7" y1="840.57" x2="260.7" y2="828.47" stroke="#111" stroke-width="1.8" />
<line x1="254.3" y1="828.47" x2="267.1" y2="828.47" stroke="#111" stroke-width="2.2" />
<rect x="249" y="840.57" width="23.4" height="180.03" fill="#1a1a1a" stroke="#111" stroke-width="2"/>
<polyline points="92.2,838.4 92.2,833.6 164.9,833.6 164.9,838.4" fill="none" stroke="#111" stroke-width="2.9"/>
<line x1="122.5" y1="823.9" x2="122.5" y2="827.7" stroke="#333" stroke-width="1.1" />
<line x1="120.85" y1="824.85" x2="124.15" y2="826.75" stroke="#333" stroke-width="1.1" />
<line x1="124.15" y1="824.85" x2="120.85" y2="826.75" stroke="#333" stroke-width="1.1" />
<line x1="127.3" y1="823.9" x2="127.3" y2="827.7" stroke="#333" stroke-width="1.1" />
<line x1="125.65" y1="824.85" x2="128.95" y2="826.75" stroke="#333" stroke-width="1.1" />
<line x1="128.95" y1="824.85" x2="125.65" y2="826.75" stroke="#333" stroke-width="1.1" />
<line x1="132.1" y1="823.9" x2="132.1" y2="827.7" stroke="#333" stroke-width="1.1" />
<line x1="130.45" y1="824.85" x2="133.75" y2="826.75" stroke="#333" stroke-width="1.1" />
<line x1="133.75" y1="824.85" x2="130.45" y2="826.75" stroke="#333" stroke-width="1.1" />
<line x1="136.9" y1="823.9" x2="136.9" y2="827.7" stroke="#333" stroke-width="1.1" />
<line x1="135.25" y1="824.85" x2="138.55" y2="826.75" stroke="#333" stroke-width="1.1" />
<line x1="138.55" y1="824.85" x2="135.25" y2="826.75" stroke="#333" stroke-width="1.1" />
<polyline points="118.1,861 118.1,856.2 188.7,856.2 188.7,861" fill="none" stroke="#111" stroke-width="2.9"/>
<line x1="147.3" y1="846.1" x2="147.3" y2="849.9" stroke="#333" stroke-width="1.1" />
<line x1="145.65" y1="847.05" x2="148.95" y2="848.95" stroke="#333" stroke-width="1.1" />
<line x1="148.95" y1="847.05" x2="145.65" y2="848.95" stroke="#333" stroke-width="1.1" />
<line x1="152.1" y1="846.1" x2="152.1" y2="849.9" stroke="#333" stroke-width="1.1" />
<line x1="150.45" y1="847.05" x2="153.75" y2="848.95" stroke="#333" stroke-width="1.1" />
<line x1="153.75" y1="847.05" x2="150.45" y2="848.95" stroke="#333" stroke-width="1.1" />
<line x1="156.9" y1="846.1" x2="156.9" y2="849.9" stroke="#333" stroke-width="1.1" />
<line x1="155.25" y1="847.05" x2="158.55" y2="848.95" stroke="#333" stroke-width="1.1" />
<line x1="158.55" y1="847.05" x2="155.25" y2="848.95" stroke="#333" stroke-width="1.1" />
<line x1="161.7" y1="846.1" x2="161.7" y2="849.9" stroke="#333" stroke-width="1.1" />
<line x1="160.05" y1="847.05" x2="163.35" y2="848.95" stroke="#333" stroke-width="1.1" />
<line x1="163.35" y1="847.05" x2="160.05" y2="848.95" stroke="#333" stroke-width="1.1" />
<polyline points="164.3,882.4 164.3,877.6 188.7,877.6 188.7,882.4" fill="none" stroke="#111" stroke-width="2.9"/>
<text x="176.8" y="872.4" font-size="13.5" fill="#111" text-anchor="middle" font-weight="normal" textLength="15" lengthAdjust="spacingAndGlyphs" stroke="#111" stroke-width="0.25" >ns</text>
<polyline points="164.4,803.6 164.4,798.2 236.2,798.2 236.2,803.6" fill="none" stroke="#111" stroke-width="2.9"/>
<text x="202.3" y="794.3" font-size="13.5" fill="#111" text-anchor="middle" font-weight="normal" textLength="14.4" lengthAdjust="spacingAndGlyphs" stroke="#111" stroke-width="0.25" >ns</text>
<polyline points="236.2,824.9 236.2,819.7 261.2,819.7 261.2,824.9" fill="none" stroke="#111" stroke-width="2.9"/>
<text x="249.3" y="815.2" font-size="13.5" fill="#111" text-anchor="middle" font-weight="normal" textLength="14.6" lengthAdjust="spacingAndGlyphs" stroke="#111" stroke-width="0.25" >ns</text>
<polyline points="187.7,778.5 187.7,773.5 261.2,773.5 261.2,778.5" fill="none" stroke="#111" stroke-width="2.9"/>
<line x1="219.5" y1="764.3" x2="219.5" y2="768.5" stroke="#333" stroke-width="1.1" />
<line x1="217.68" y1="765.35" x2="221.32" y2="767.45" stroke="#333" stroke-width="1.1" />
<line x1="221.32" y1="765.35" x2="217.68" y2="767.45" stroke="#333" stroke-width="1.1" />
<line x1="224.4" y1="764.3" x2="224.4" y2="768.5" stroke="#333" stroke-width="1.1" />
<line x1="222.58" y1="765.35" x2="226.22" y2="767.45" stroke="#333" stroke-width="1.1" />
<line x1="226.22" y1="765.35" x2="222.58" y2="767.45" stroke="#333" stroke-width="1.1" />
<line x1="229.3" y1="764.3" x2="229.3" y2="768.5" stroke="#333" stroke-width="1.1" />
<line x1="227.48" y1="765.35" x2="231.12" y2="767.45" stroke="#333" stroke-width="1.1" />
<line x1="231.12" y1="765.35" x2="227.48" y2="767.45" stroke="#333" stroke-width="1.1" />
<polyline points="92.3,956.6 92.3,952.2 117.9,952.2 117.9,956.6" fill="none" stroke="#111" stroke-width="2.9"/>
<line x1="97.95" y1="942.4" x2="97.95" y2="946.2" stroke="#333" stroke-width="1.1" />
<line x1="96.3" y1="943.35" x2="99.6" y2="945.25" stroke="#333" stroke-width="1.1" />
<line x1="99.6" y1="943.35" x2="96.3" y2="945.25" stroke="#333" stroke-width="1.1" />
<line x1="102.85" y1="942.4" x2="102.85" y2="946.2" stroke="#333" stroke-width="1.1" />
<line x1="101.2" y1="943.35" x2="104.5" y2="945.25" stroke="#333" stroke-width="1.1" />
<line x1="104.5" y1="943.35" x2="101.2" y2="945.25" stroke="#333" stroke-width="1.1" />
<line x1="107.75" y1="942.4" x2="107.75" y2="946.2" stroke="#333" stroke-width="1.1" />
<line x1="106.1" y1="943.35" x2="109.4" y2="945.25" stroke="#333" stroke-width="1.1" />
<line x1="109.4" y1="943.35" x2="106.1" y2="945.25" stroke="#333" stroke-width="1.1" />
<line x1="112.65" y1="942.4" x2="112.65" y2="946.2" stroke="#333" stroke-width="1.1" />
<line x1="111" y1="943.35" x2="114.3" y2="945.25" stroke="#333" stroke-width="1.1" />
<line x1="114.3" y1="943.35" x2="111" y2="945.25" stroke="#333" stroke-width="1.1" />
<text x="108" y="1035.6" font-size="12.5" fill="#3c46a0" text-anchor="middle" font-weight="normal" textLength="13.8" lengthAdjust="spacingAndGlyphs" >wt</text>
<text x="148.6" y="1035.6" font-size="12.5" fill="#c83232" text-anchor="start" font-weight="normal" textLength="59.8" lengthAdjust="spacingAndGlyphs" >TRPV1 -/-</text>
<text x="225.2" y="1035.6" font-size="12.5" fill="#6cb43c" text-anchor="start" font-weight="normal" textLength="55.2" lengthAdjust="spacingAndGlyphs" >wt + RTX</text>
<rect x="301.2" y="890.4" width="15.9" height="11.2" fill="#fff" stroke="#111" stroke-width="2"/>
<rect x="300.2" y="906.0" width="17.9" height="13.6" fill="#1a1a1a"/>
<text x="327" y="900.9" font-size="13" fill="#111" text-anchor="start" font-weight="normal" textLength="49.8" lengthAdjust="spacingAndGlyphs" stroke="#111" stroke-width="0.3" >Baseline</text>
<text x="327" y="917" font-size="13" fill="#111" text-anchor="start" font-weight="normal" textLength="51" lengthAdjust="spacingAndGlyphs" stroke="#111" stroke-width="0.3" >Inflamed</text>
</svg></body></html>
